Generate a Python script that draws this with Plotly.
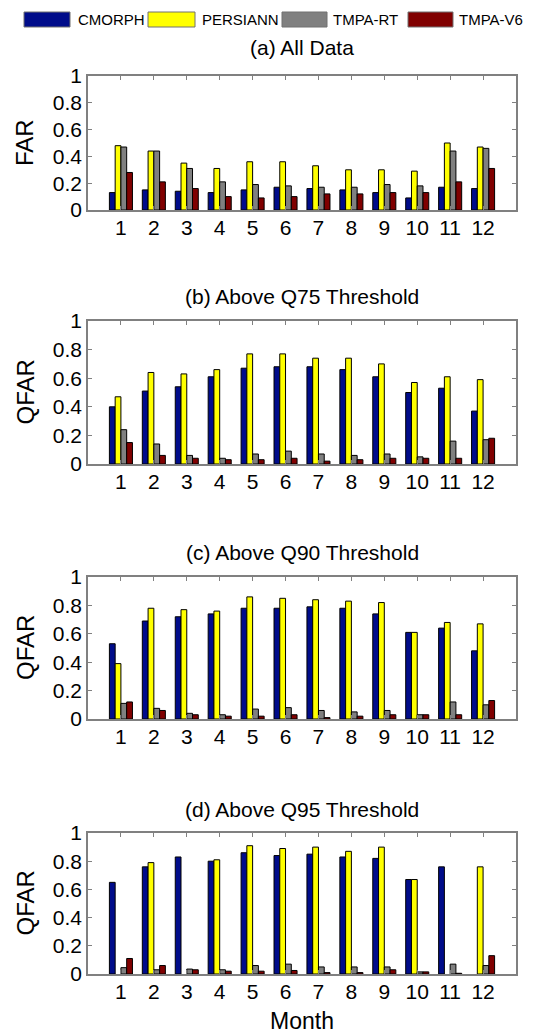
import plotly.graph_objects as go

months = list(range(1, 13))
month_labels = [str(m) for m in months]
products = ["CMORPH", "PERSIANN", "TMPA-RT", "TMPA-V6"]
colors = ["#000c8a", "#ffff00", "#808080", "#800000"]

# (a) All Data - FAR
far_cmorph = [0.13, 0.15, 0.14, 0.13, 0.15, 0.17, 0.16, 0.15, 0.13, 0.09, 0.17, 0.16]
far_persiann = [0.48, 0.44, 0.35, 0.31, 0.36, 0.36, 0.33, 0.30, 0.30, 0.29, 0.50, 0.47]
far_tmpart = [0.47, 0.44, 0.31, 0.21, 0.19, 0.18, 0.17, 0.17, 0.19, 0.18, 0.44, 0.46]
far_tmpav6 = [0.28, 0.21, 0.16, 0.10, 0.09, 0.10, 0.12, 0.12, 0.13, 0.13, 0.21, 0.31]

# (b) Above Q75 Threshold - QFAR
q75_cmorph = [0.40, 0.51, 0.54, 0.61, 0.67, 0.68, 0.68, 0.66, 0.61, 0.50, 0.53, 0.37]
q75_persiann = [0.47, 0.64, 0.63, 0.66, 0.77, 0.77, 0.74, 0.74, 0.70, 0.57, 0.61, 0.59]
q75_tmpart = [0.24, 0.14, 0.06, 0.04, 0.07, 0.09, 0.07, 0.06, 0.07, 0.05, 0.16, 0.17]
q75_tmpav6 = [0.15, 0.06, 0.04, 0.03, 0.03, 0.04, 0.02, 0.03, 0.04, 0.04, 0.04, 0.18]

# (c) Above Q90 Threshold - QFAR
q90_cmorph = [0.53, 0.69, 0.72, 0.74, 0.78, 0.78, 0.79, 0.78, 0.74, 0.61, 0.64, 0.48]
q90_persiann = [0.39, 0.78, 0.77, 0.76, 0.86, 0.85, 0.84, 0.83, 0.82, 0.61, 0.68, 0.67]
q90_tmpart = [0.11, 0.075, 0.04, 0.03, 0.07, 0.08, 0.06, 0.05, 0.06, 0.03, 0.12, 0.10]
q90_tmpav6 = [0.12, 0.06, 0.03, 0.02, 0.02, 0.03, 0.01, 0.02, 0.03, 0.03, 0.03, 0.13]

# (d) Above Q95 Threshold - QFAR (None = no bar)
q95_cmorph = [0.65, 0.76, 0.83, 0.80, 0.86, 0.84, 0.85, 0.83, 0.82, 0.67, 0.76, None]
q95_persiann = [None, 0.79, None, 0.81, 0.91, 0.89, 0.90, 0.87, 0.90, 0.67, None, 0.76]
q95_tmpart = [0.045, 0.03, 0.035, 0.03, 0.06, 0.07, 0.05, 0.05, 0.05, 0.015, 0.07, 0.06]
q95_tmpav6 = [0.11, 0.06, 0.03, 0.02, 0.02, 0.025, 0.01, 0.01, 0.03, 0.015, 0.005, 0.13]

panels = [
    ("(a) All Data", "FAR", [far_cmorph, far_persiann, far_tmpart, far_tmpav6]),
    ("(b) Above Q75 Threshold", "QFAR", [q75_cmorph, q75_persiann, q75_tmpart, q75_tmpav6]),
    ("(c) Above Q90 Threshold", "QFAR", [q90_cmorph, q90_persiann, q90_tmpart, q90_tmpav6]),
    ("(d) Above Q95 Threshold", "QFAR", [q95_cmorph, q95_persiann, q95_tmpart, q95_tmpav6]),
]

W, H = 558, 1034
FONT = "Liberation Sans, Arial, Helvetica, sans-serif"
PAGE_OFFSET = 8  # default page body margin, compensated below

# pixel layout (top, bottom) of each axes box, and title centre (page pixels)
boxes = [(76, 210), (321, 464), (577, 719), (833, 974)]
title_y = [48, 296, 552, 809]
x_left, x_right = 88, 516


def py(p):
    return 1 - (p - PAGE_OFFSET) / H


def px(p):
    return (p - PAGE_OFFSET) / W


fig = go.Figure()
annotations = []
for i, (title, ylab, series) in enumerate(panels):
    xa = "x" if i == 0 else f"x{i+1}"
    ya = "y" if i == 0 else f"y{i+1}"
    for name, vals, col in zip(products, series, colors):
        fig.add_trace(go.Bar(
            x=months, y=vals, name=name, xaxis=xa, yaxis=ya,
            marker=dict(color=col, line=dict(color="black", width=1)),
            showlegend=False, offsetgroup=name,
        ))
    top, bot = boxes[i]
    axis_common = dict(
        showline=True, linecolor="#808080", linewidth=1.5, mirror="ticks",
        ticks="inside", ticklen=4, tickcolor="#808080", tickwidth=1,
        showgrid=False, zeroline=False, automargin=False,
        tickfont=dict(family=FONT, size=21, color="black"),
    )
    fig.update_layout(**{
        ("xaxis" if i == 0 else f"xaxis{i+1}"): dict(
            domain=[px(x_left), px(x_right)], anchor=ya, range=[0, 13],
            tickmode="array", tickvals=months, ticktext=month_labels,
            ticklabelstandoff=-2, **axis_common),
        ("yaxis" if i == 0 else f"yaxis{i+1}"): dict(
            domain=[py(bot), py(top)], anchor=xa, range=[0, 1],
            tickmode="array", tickvals=[0, 0.2, 0.4, 0.6, 0.8, 1],
            ticktext=["0", "0.2", "0.4", "0.6", "0.8", "1"],
            ticklabelstandoff=0, **axis_common),
    })
    annotations.append(dict(
        text=title, x=px((x_left + x_right) / 2), y=py(title_y[i]),
        xref="paper", yref="paper", showarrow=False,
        xanchor="center", yanchor="middle",
        font=dict(family=FONT, size=21, color="black")))
    annotations.append(dict(
        text=ylab, x=px(25), y=py((top + bot) / 2), textangle=-90,
        xref="paper", yref="paper", showarrow=False,
        xanchor="center", yanchor="middle",
        font=dict(family=FONT, size=24, color="black")))

annotations.append(dict(
    text="Month", x=px((x_left + x_right) / 2), y=py(1021),
    xref="paper", yref="paper", showarrow=False,
    xanchor="center", yanchor="middle",
    font=dict(family=FONT, size=23, color="black")))

# legend drawn as boxes + labels along the top
legend_boxes = [(24, 70, 76), (148, 195, 200), (282, 327, 331), (408, 453, 457)]
shapes = []
for (x0, x1, tx), name, col in zip(legend_boxes, products, colors):
    shapes.append(dict(type="rect", xref="paper", yref="paper",
                       x0=px(x0), x1=px(x1), y0=py(27), y1=py(12),
                       fillcolor=col, line=dict(color="#707070", width=1)))
    annotations.append(dict(
        text=name, x=px(tx), y=py(19.5), xref="paper", yref="paper",
        showarrow=False, xanchor="left", yanchor="middle",
        font=dict(family=FONT, size=15, color="black")))

fig.update_layout(
    template="none",
    width=W, height=H, autosize=False,
    margin=dict(l=0, r=0, t=0, b=0, pad=0),
    paper_bgcolor="white", plot_bgcolor="white",
    barmode="group", bargap=0.3, bargroupgap=0,
    annotations=annotations, shapes=shapes,
    font=dict(family=FONT, color="black"),
)

fig.write_html("out.html", config={"responsive": False},
               default_width=f"{W}px", default_height=f"{H}px")
